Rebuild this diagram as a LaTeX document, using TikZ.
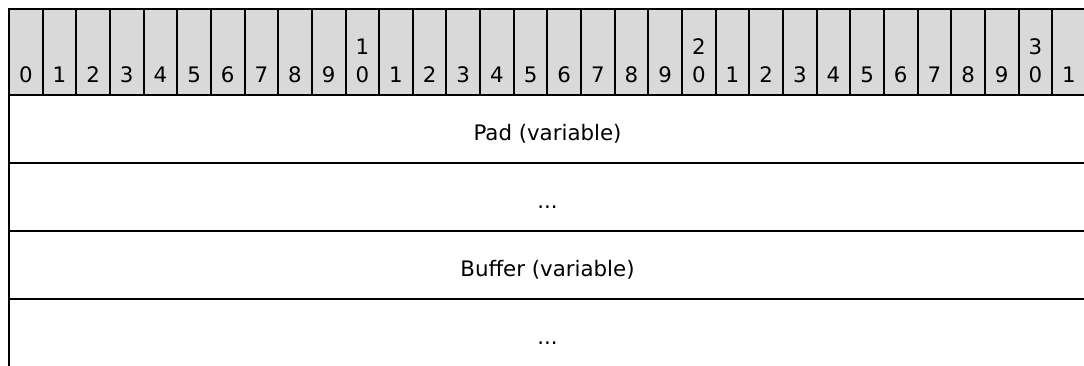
\documentclass[tikz,border=0pt]{standalone}
\usepackage{fontspec}
\setmainfont{DejaVu Sans}
\usepackage{tikz}
\usetikzlibrary{positioning}
\definecolor{headgray}{RGB}{217,217,217}

\begin{document}
\begin{tikzpicture}[
    x=0.75pt, y=-0.75pt,
    bitcell/.style={rectangle, draw, line width=1.5pt, fill=headgray, minimum width=25.24pt, minimum height=64.5pt, inner sep=0pt},
    digit/.style={anchor=base, inner sep=0pt, font=\fontsize{16}{19}\selectfont},
    fieldrow/.style={rectangle, draw, line width=1.5pt, minimum width=807.75pt, minimum height=51pt, inner sep=0pt, outer sep=0pt},
    fieldtext/.style={anchor=base, inner sep=0pt, font=\fontsize{16}{19}\selectfont}
]
    \useasboundingbox (0,0) rectangle (1084,366);

    % Bit numbers
    \foreach \i in {0,...,31} {
        \pgfmathtruncatemacro\ones{mod(\i,10)}
        \pgfmathtruncatemacro\tens{div(\i,10)}
        \node[bitcell] (c\i) at ({25.825+33.65*\i},52) {};
        \node[digit] (d\i) at ({25.825+33.65*\i},82.3) {\ones};
        \ifnum\ones=0 \ifnum\tens>0
            \node[digit] (t\i) at ({25.825+33.65*\i},55) {\tens};
        \fi\fi
    }

    % Fields
    \node[fieldrow] (pad) at (547.5,129) {};
    \node[fieldrow] (padmore) at (547.5,197) {};
    \node[fieldrow] (buffer) at (547.5,265) {};
    \coordinate (open) at (9,380);

    \node[fieldtext] (padlbl) at (547.5,141) {Pad (variable)};
    \node[fieldtext] (padmorelbl) at (547.5,208.5) {...};
    \node[fieldtext] (bufferlbl) at (547.5,276.5) {Buffer (variable)};
    \node[fieldtext] (buffermorelbl) at (547.5,344.5) {...};

    % Open last row
    \draw[line width=1.5pt] (buffer.west) -- (open);
\end{tikzpicture}
\end{document}
